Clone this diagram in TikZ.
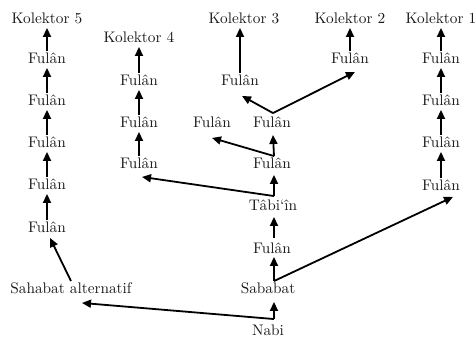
\documentclass[tikz,border=0pt]{standalone}
\usepackage{fontspec}
\setmainfont{lmroman10-regular}[Extension=.otf]
\usetikzlibrary{arrows.meta}
\begin{document}
\begin{tikzpicture}[x=1pt,y=-1pt,
  lbl/.style={inner sep=1.5pt,text height=10.5pt,text depth=0pt,text=black!90,
    font=\fontsize{15.3}{18}\selectfont},
  arr/.style={line width=1.8pt,-{Triangle[length=9pt,width=8pt]},shorten >=3pt}]
\useasboundingbox (0,0) rectangle (475,340);
% column 1
\node[lbl] (k5) at (47,18) {Kolektor 5};
\node[lbl] (a1) at (47,58) {Fulân};
\node[lbl] (a2) at (47,100) {Fulân};
\node[lbl] (a3) at (47,142) {Fulân};
\node[lbl] (a4) at (47,184) {Fulân};
\node[lbl] (a5) at (47,227) {Fulân};
\node[lbl] (salt) at (71,288) {Sahabat alternatif};
% column 2
\node[lbl] (k4) at (139,37) {Kolektor 4};
\node[lbl] (b1) at (139,80) {Fulân};
\node[lbl] (b2) at (139,122) {Fulân};
\node[lbl] (b3) at (139,163) {Fulân};
% centre
\node[lbl] (k3) at (244,18) {Kolektor 3};
\node[lbl] (c1) at (240,80) {Fulân};
\node[lbl] (d) at (212,122) {Fulân};
\node[lbl] (e) at (272,122) {Fulân};
\node[lbl] (k2) at (350,18) {Kolektor 2};
\node[lbl] (f) at (350,58) {Fulân};
\node[lbl] (g) at (272,163) {Fulân};
\node[lbl] (tabi) at (273,205) {Tâbi‘în};
\node[lbl] (h) at (272,248) {Fulân};
\node[lbl] (sab) at (268,288) {Sababat};
\node[lbl] (nabi) at (268,330) {Nabi};
% column 5
\node[lbl] (k1) at (441,18) {Kolektor 1};
\node[lbl] (p1) at (441,58) {Fulân};
\node[lbl] (p2) at (441,100) {Fulân};
\node[lbl] (p3) at (441,142) {Fulân};
\node[lbl] (p4) at (441,185) {Fulân};
% branch points
\coordinate (nb) at ([xshift=6pt,yshift=4pt]nabi.north);
\coordinate (sb) at ([xshift=6pt]sab.north);
\coordinate (tb) at ([xshift=1pt,yshift=2pt]tabi.north);
\coordinate (gb) at ([xshift=2pt]g.north);
\coordinate (eb) at ([xshift=1pt,yshift=2pt]e.north);
% column 1 arrows
\draw[arr] (a1.north) -- (k5.south);
\draw[arr] (a2.north) -- (a1.south);
\draw[arr] (a3.north) -- (a2.south);
\draw[arr] (a4.north) -- (a3.south);
\draw[arr] (a5.north) -- (a4.south);
\draw[arr,shorten >=0pt] (salt.north) -- ([xshift=3pt,yshift=-4pt]a5.south);
% column 2 arrows
\draw[arr] (b1.north) -- (k4.south);
\draw[arr] (b2.north) -- (b1.south);
\draw[arr] (b3.north) -- (b2.south);
% column 5 arrows
\draw[arr] (p1.north) -- (k1.south);
\draw[arr] (p2.north) -- (p1.south);
\draw[arr] (p3.north) -- (p2.south);
\draw[arr] (p4.north) -- (p3.south);
% centre arrows
\draw[arr,shorten >=0pt] (nb) -- ([xshift=6pt,yshift=-7pt]sab.south);
\draw[arr,shorten >=0pt] (nb) -- ([xshift=11pt,yshift=-8pt]salt.south);
\draw[arr,shorten >=0pt] (sb) -- ([xshift=2pt,yshift=-2pt]h.south);
\draw[arr,shorten >=0pt] (sb) -- ([xshift=12pt,yshift=-5pt]p4.south);
\draw[arr,shorten >=0pt] ([xshift=2pt,yshift=3pt]h.north) -- ([xshift=1pt,yshift=-5pt]tabi.south);
\draw[arr,shorten >=0pt] (tb) -- ([xshift=2pt,yshift=-5pt]g.south);
\draw[arr,shorten >=0pt] (tb) -- ([xshift=3pt,yshift=-7pt]b3.south);
\draw[arr,shorten >=0pt] (gb) -- ([xshift=1pt,yshift=-6pt]e.south);
\draw[arr,shorten >=0pt] (gb) -- ([yshift=-9pt]d.south);
\draw[arr,shorten >=0pt] (eb) -- ([xshift=2pt,yshift=-9pt]c1.south);
\draw[arr,shorten >=0pt] (eb) -- ([xshift=5pt,yshift=-7pt]f.south);
\draw[arr] (c1.north) -- ([xshift=-4pt]k3.south);
\draw[arr] (f.north) -- (k2.south);
\end{tikzpicture}
\end{document}
